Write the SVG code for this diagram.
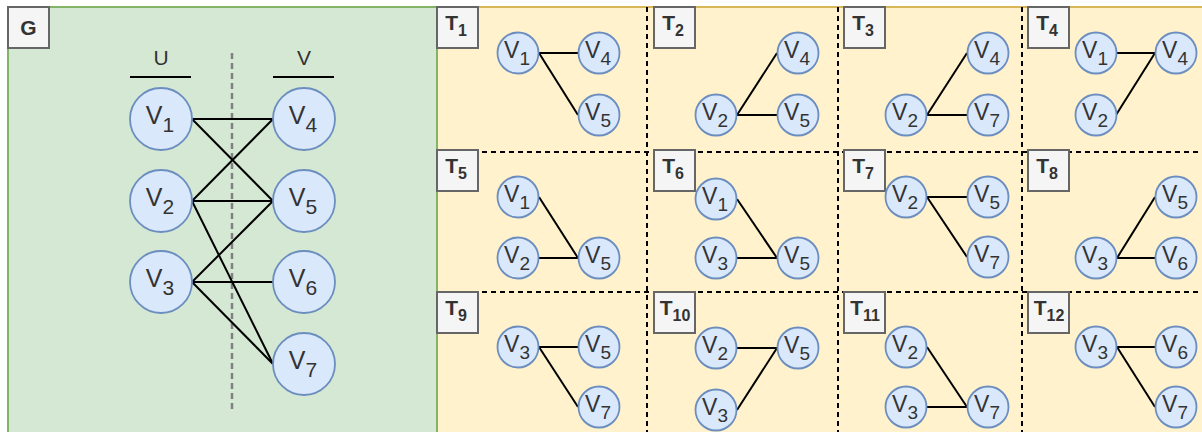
<svg xmlns="http://www.w3.org/2000/svg" width="1202" height="432" viewBox="0 0 1202 432">
<style>
.nd{fill:#dae8fc;stroke:#6c8ebf;stroke-width:1.8}
.nt{font-family:"Liberation Sans",Arial,sans-serif;font-size:23px;fill:#333;text-anchor:middle}
.gt{font-size:25px}
.sb{font-size:19px}
.gs{font-size:21px}
.lb{fill:#f5f5f5;stroke:#666;stroke-width:2}
.lt{font-family:"Liberation Sans",Arial,sans-serif;font-size:21px;font-weight:bold;fill:#333;text-anchor:middle}
.ls{font-size:16px}
.ed{stroke:#000;stroke-width:2;fill:none}
.grid{stroke:#000;stroke-width:2;stroke-dasharray:5 4;fill:none}
.hd{font-family:"Liberation Sans",Arial,sans-serif;font-size:21px;fill:#333;text-anchor:middle}
</style>
<rect x="0" y="0" width="1202" height="432" fill="#fff"/>
<g id="panel-T">
<rect x="437" y="7" width="780" height="440" fill="#fff2cc" stroke="#d6b656" stroke-width="2"/>
</g>
<g id="panel-G">
<rect x="8" y="7" width="429" height="440" fill="#d5e8d4" stroke="#82b366" stroke-width="2"/>
</g>
<g id="grid">
<line class="grid" x1="647" y1="7" x2="647" y2="432"/>
<line class="grid" x1="838" y1="7" x2="838" y2="432"/>
<line class="grid" x1="1022" y1="7" x2="1022" y2="432"/>
<line class="grid" x1="437" y1="152" x2="1202" y2="152"/>
<line class="grid" x1="437" y1="292" x2="1202" y2="292"/>
</g>
<g id="G-headers">
<text class="hd" x="161" y="65">U</text>
<line x1="130" y1="77" x2="191" y2="77" stroke="#000" stroke-width="2"/>
<text class="hd" x="304" y="65">V</text>
<line x1="273" y1="77" x2="334" y2="77" stroke="#000" stroke-width="2"/>
<line x1="232" y1="53" x2="232" y2="410" stroke="#808080" stroke-width="2.5" stroke-dasharray="6 4"/>
</g>
<g id="connectors">
<line class="ed" x1="192" y1="119" x2="273" y2="119"/>
<line class="ed" x1="192" y1="119" x2="273" y2="201"/>
<line class="ed" x1="192" y1="201" x2="273" y2="119"/>
<line class="ed" x1="192" y1="201" x2="273" y2="201"/>
<line class="ed" x1="192" y1="201" x2="273" y2="364"/>
<line class="ed" x1="192" y1="282" x2="273" y2="201"/>
<line class="ed" x1="192" y1="282" x2="273" y2="282"/>
<line class="ed" x1="192" y1="282" x2="273" y2="364"/>
<!-- T1 -->
<line class="ed" x1="539" y1="53" x2="578" y2="53"/>
<line class="ed" x1="539" y1="53" x2="578" y2="115"/>
<!-- T2 -->
<line class="ed" x1="737" y1="115" x2="777" y2="53"/>
<line class="ed" x1="737" y1="115" x2="777" y2="115"/>
<!-- T3 -->
<line class="ed" x1="927" y1="115" x2="967" y2="53"/>
<line class="ed" x1="927" y1="115" x2="967" y2="115"/>
<!-- T4 -->
<line class="ed" x1="1116" y1="53" x2="1155" y2="53"/>
<line class="ed" x1="1116" y1="115" x2="1155" y2="53"/>
<!-- T5 -->
<line class="ed" x1="539" y1="197" x2="578" y2="258"/>
<line class="ed" x1="539" y1="258" x2="578" y2="258"/>
<!-- T6 -->
<line class="ed" x1="737" y1="199" x2="777" y2="258"/>
<line class="ed" x1="737" y1="258" x2="777" y2="258"/>
<!-- T7 -->
<line class="ed" x1="927" y1="197" x2="967" y2="197"/>
<line class="ed" x1="927" y1="197" x2="967" y2="257"/>
<!-- T8 -->
<line class="ed" x1="1117" y1="258" x2="1155" y2="197"/>
<line class="ed" x1="1117" y1="258" x2="1155" y2="258"/>
<!-- T9 -->
<line class="ed" x1="539" y1="347" x2="578" y2="347"/>
<line class="ed" x1="539" y1="347" x2="578" y2="407"/>
<!-- T10 -->
<line class="ed" x1="737" y1="348" x2="777" y2="348"/>
<line class="ed" x1="737" y1="410" x2="777" y2="348"/>
<!-- T11 -->
<line class="ed" x1="927" y1="347" x2="967" y2="407"/>
<line class="ed" x1="927" y1="407" x2="967" y2="407"/>
<!-- T12 -->
<line class="ed" x1="1117" y1="347" x2="1155" y2="347"/>
<line class="ed" x1="1117" y1="347" x2="1155" y2="407"/>
</g>
<g id="G-label"><rect class="lb" x="8" y="7" width="41" height="41"/><text class="lt" x="28.5" y="35">G</text></g>
<g id="G-V1"><circle class="nd" cx="161" cy="119" r="31"/><text class="nt gt" x="160" y="124">V<tspan class="gs" dy="8">1</tspan></text></g>
<g id="G-V2"><circle class="nd" cx="161" cy="201" r="31"/><text class="nt gt" x="160" y="206">V<tspan class="gs" dy="8">2</tspan></text></g>
<g id="G-V3"><circle class="nd" cx="161" cy="282" r="31"/><text class="nt gt" x="160" y="287">V<tspan class="gs" dy="8">3</tspan></text></g>
<g id="G-V4"><circle class="nd" cx="304" cy="119" r="31"/><text class="nt gt" x="303" y="124">V<tspan class="gs" dy="8">4</tspan></text></g>
<g id="G-V5"><circle class="nd" cx="304" cy="201" r="31"/><text class="nt gt" x="303" y="206">V<tspan class="gs" dy="8">5</tspan></text></g>
<g id="G-V6"><circle class="nd" cx="304" cy="282" r="31"/><text class="nt gt" x="303" y="287">V<tspan class="gs" dy="8">6</tspan></text></g>
<g id="G-V7"><circle class="nd" cx="304" cy="364" r="31"/><text class="nt gt" x="303" y="369">V<tspan class="gs" dy="8">7</tspan></text></g>

<g id="T1">
<rect class="lb" x="437" y="7" width="41" height="41"/><text class="lt" x="456" y="30">T<tspan class="ls" dy="6">1</tspan></text>
<circle class="nd" cx="518" cy="53" r="20.5"/><text class="nt" x="517" y="58">V<tspan class="sb" dy="7">1</tspan></text>
<circle class="nd" cx="599" cy="53" r="20.5"/><text class="nt" x="598" y="58">V<tspan class="sb" dy="7">4</tspan></text>
<circle class="nd" cx="599" cy="115" r="20.5"/><text class="nt" x="598" y="120">V<tspan class="sb" dy="7">5</tspan></text>
</g>
<g id="T2">
<rect class="lb" x="654" y="7" width="41" height="41"/><text class="lt" x="673" y="30">T<tspan class="ls" dy="6">2</tspan></text>
<circle class="nd" cx="716" cy="115" r="20.5"/><text class="nt" x="715" y="120">V<tspan class="sb" dy="7">2</tspan></text>
<circle class="nd" cx="798" cy="53" r="20.5"/><text class="nt" x="797" y="58">V<tspan class="sb" dy="7">4</tspan></text>
<circle class="nd" cx="798" cy="115" r="20.5"/><text class="nt" x="797" y="120">V<tspan class="sb" dy="7">5</tspan></text>
</g>
<g id="T3">
<rect class="lb" x="844" y="7" width="41" height="41"/><text class="lt" x="863" y="30">T<tspan class="ls" dy="6">3</tspan></text>
<circle class="nd" cx="906" cy="115" r="20.5"/><text class="nt" x="905" y="120">V<tspan class="sb" dy="7">2</tspan></text>
<circle class="nd" cx="988" cy="53" r="20.5"/><text class="nt" x="987" y="58">V<tspan class="sb" dy="7">4</tspan></text>
<circle class="nd" cx="988" cy="115" r="20.5"/><text class="nt" x="987" y="120">V<tspan class="sb" dy="7">7</tspan></text>
</g>
<g id="T4">
<rect class="lb" x="1028" y="7" width="41" height="41"/><text class="lt" x="1047" y="30">T<tspan class="ls" dy="6">4</tspan></text>
<circle class="nd" cx="1096" cy="53" r="20.5"/><text class="nt" x="1095" y="58">V<tspan class="sb" dy="7">1</tspan></text>
<circle class="nd" cx="1096" cy="115" r="20.5"/><text class="nt" x="1095" y="120">V<tspan class="sb" dy="7">2</tspan></text>
<circle class="nd" cx="1176" cy="53" r="20.5"/><text class="nt" x="1175" y="58">V<tspan class="sb" dy="7">4</tspan></text>
</g>
<g id="T5">
<rect class="lb" x="437" y="150" width="41" height="41"/><text class="lt" x="456" y="173">T<tspan class="ls" dy="6">5</tspan></text>
<circle class="nd" cx="518" cy="197" r="20.5"/><text class="nt" x="517" y="202">V<tspan class="sb" dy="7">1</tspan></text>
<circle class="nd" cx="518" cy="258" r="20.5"/><text class="nt" x="517" y="263">V<tspan class="sb" dy="7">2</tspan></text>
<circle class="nd" cx="599" cy="258" r="20.5"/><text class="nt" x="598" y="263">V<tspan class="sb" dy="7">5</tspan></text>
</g>
<g id="T6">
<rect class="lb" x="654" y="150" width="41" height="41"/><text class="lt" x="673" y="173">T<tspan class="ls" dy="6">6</tspan></text>
<circle class="nd" cx="716" cy="199" r="20.5"/><text class="nt" x="715" y="204">V<tspan class="sb" dy="7">1</tspan></text>
<circle class="nd" cx="716" cy="258" r="20.5"/><text class="nt" x="715" y="263">V<tspan class="sb" dy="7">3</tspan></text>
<circle class="nd" cx="798" cy="258" r="20.5"/><text class="nt" x="797" y="263">V<tspan class="sb" dy="7">5</tspan></text>
</g>
<g id="T7">
<rect class="lb" x="844" y="150" width="41" height="41"/><text class="lt" x="863" y="173">T<tspan class="ls" dy="6">7</tspan></text>
<circle class="nd" cx="906" cy="197" r="20.5"/><text class="nt" x="905" y="202">V<tspan class="sb" dy="7">2</tspan></text>
<circle class="nd" cx="988" cy="197" r="20.5"/><text class="nt" x="987" y="202">V<tspan class="sb" dy="7">5</tspan></text>
<circle class="nd" cx="988" cy="257" r="20.5"/><text class="nt" x="987" y="262">V<tspan class="sb" dy="7">7</tspan></text>
</g>
<g id="T8">
<rect class="lb" x="1028" y="150" width="41" height="41"/><text class="lt" x="1047" y="173">T<tspan class="ls" dy="6">8</tspan></text>
<circle class="nd" cx="1096" cy="258" r="20.5"/><text class="nt" x="1095" y="263">V<tspan class="sb" dy="7">3</tspan></text>
<circle class="nd" cx="1176" cy="197" r="20.5"/><text class="nt" x="1175" y="202">V<tspan class="sb" dy="7">5</tspan></text>
<circle class="nd" cx="1176" cy="258" r="20.5"/><text class="nt" x="1175" y="263">V<tspan class="sb" dy="7">6</tspan></text>
</g>
<g id="T9">
<rect class="lb" x="437" y="292" width="41" height="41"/><text class="lt" x="456" y="315">T<tspan class="ls" dy="6">9</tspan></text>
<circle class="nd" cx="518" cy="347" r="20.5"/><text class="nt" x="517" y="352">V<tspan class="sb" dy="7">3</tspan></text>
<circle class="nd" cx="599" cy="347" r="20.5"/><text class="nt" x="598" y="352">V<tspan class="sb" dy="7">5</tspan></text>
<circle class="nd" cx="599" cy="407" r="20.5"/><text class="nt" x="598" y="412">V<tspan class="sb" dy="7">7</tspan></text>
</g>
<g id="T10">
<rect class="lb" x="654" y="292" width="41" height="41"/><text class="lt" x="675" y="315">T<tspan class="ls" dy="6">10</tspan></text>
<circle class="nd" cx="716" cy="348" r="20.5"/><text class="nt" x="715" y="353">V<tspan class="sb" dy="7">2</tspan></text>
<circle class="nd" cx="716" cy="410" r="20.5"/><text class="nt" x="715" y="415">V<tspan class="sb" dy="7">3</tspan></text>
<circle class="nd" cx="798" cy="348" r="20.5"/><text class="nt" x="797" y="353">V<tspan class="sb" dy="7">5</tspan></text>
</g>
<g id="T11">
<rect class="lb" x="844" y="292" width="41" height="41"/><text class="lt" x="865" y="315">T<tspan class="ls" dy="6">11</tspan></text>
<circle class="nd" cx="906" cy="347" r="20.5"/><text class="nt" x="905" y="352">V<tspan class="sb" dy="7">2</tspan></text>
<circle class="nd" cx="906" cy="407" r="20.5"/><text class="nt" x="905" y="412">V<tspan class="sb" dy="7">3</tspan></text>
<circle class="nd" cx="988" cy="407" r="20.5"/><text class="nt" x="987" y="412">V<tspan class="sb" dy="7">7</tspan></text>
</g>
<g id="T12">
<rect class="lb" x="1028" y="292" width="41" height="41"/><text class="lt" x="1049" y="315">T<tspan class="ls" dy="6">12</tspan></text>
<circle class="nd" cx="1096" cy="347" r="20.5"/><text class="nt" x="1095" y="352">V<tspan class="sb" dy="7">3</tspan></text>
<circle class="nd" cx="1176" cy="347" r="20.5"/><text class="nt" x="1175" y="352">V<tspan class="sb" dy="7">6</tspan></text>
<circle class="nd" cx="1176" cy="407" r="20.5"/><text class="nt" x="1175" y="412">V<tspan class="sb" dy="7">7</tspan></text>
</g>
</svg>
